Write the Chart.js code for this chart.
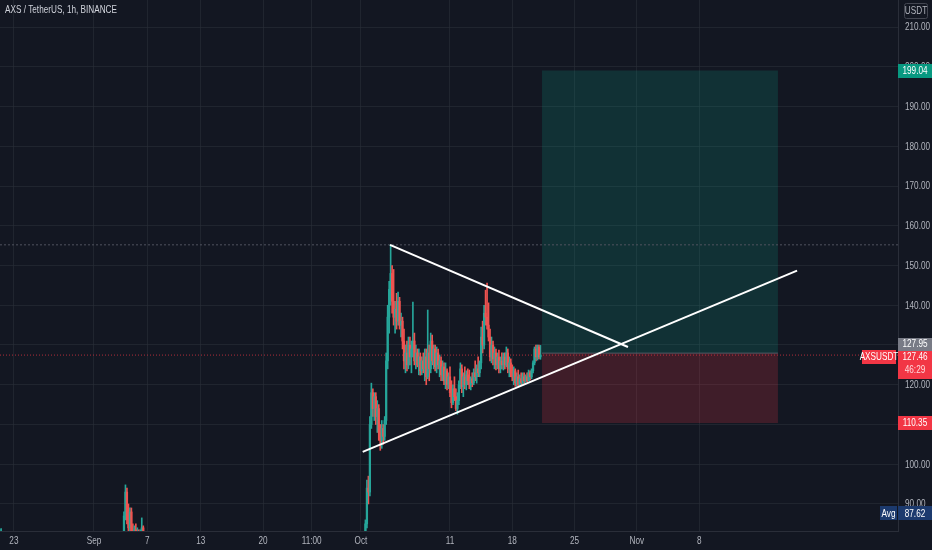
<!DOCTYPE html>
<html>
<head>
<meta charset="utf-8">
<script src="https://cdn.jsdelivr.net/npm/chart.js@4.4.0/dist/chart.umd.min.js"></script>
<style>
  html, body { margin: 0; padding: 0; background: #131722; }
  canvas { display: block; }
</style>
</head>
<body>
<canvas id="chart" width="932" height="550"></canvas>
<script>
// x values are days counted from Sep 1 (Sep 1 = 0, Oct 1 = 30, Nov 1 = 61)
const xTickValues = [-9, 0, 6, 12, 19, 24.46, 30, 40, 47, 54, 61, 68];
const xTickLabels = ['23', 'Sep', '7', '13', '20', '11:00', 'Oct', '11', '18', '25', 'Nov', '8'];
const yTickValues = [90, 100, 110, 120, 130, 140, 150, 160, 170, 180, 190, 200, 210];

const candleStep = 4 / 24; // 4h candles
const augStart = -10.6;
const sepStart = 3.37;
const octStart = 30.5;

// [open, high, low, close]
const augCandles = [
  [80, 83.6, 79, 83], [81, 83.8, 80, 83]
];
const sepCandles = [
  [83, 88, 82, 87], [87, 94.8, 86, 93], [93, 94, 85, 86], [86, 90, 82, 84],
  [84, 89, 82, 88], [88, 89, 82, 83], [83, 85, 81, 82], [82, 84.5, 80, 83.5],
  [83.5, 85, 82, 82.5], [82.5, 84, 81, 83], [83, 83.5, 80, 81], [81, 83.5, 80, 82.5],
  [82.5, 86.5, 82, 84], [84, 84.5, 80, 81]
];
const octCandles = [
  [82, 86, 80, 85], [85, 96, 84, 94], [94, 97, 90, 93], [93, 112, 92, 110],
  [110, 120.4, 109, 118], [118, 119, 112, 114], [114, 118, 111, 117], [117, 118, 110, 112],
  [112, 116, 108, 114], [114, 115, 106, 108], [108, 110, 103.5, 106], [106, 111, 104, 109],
  [109, 110, 105, 107], [107, 112, 106, 111], [111, 128, 110, 126], [126, 140, 124, 137],
  [137, 146, 133, 144], [144, 155.2, 140, 148], [148, 150, 138, 141], [141, 149, 135, 137],
  [137, 141, 133, 139], [139, 143, 134, 136], [136, 143.3, 135, 141], [141, 142, 134, 135],
  [135, 138, 132, 136], [136, 137, 129, 131], [131, 134, 124, 126], [126, 130, 123, 128],
  [128, 131, 123.5, 125], [125, 132, 124, 130], [130, 132, 125, 127], [127, 131, 123, 129],
  [129, 140.8, 127, 131], [131, 133, 125, 126], [126, 130, 124, 128], [128, 129, 124.5, 125],
  [125, 129, 122.5, 127], [127, 128, 122.4, 123.5], [123.5, 127, 122.5, 126], [126, 128, 123, 124],
  [124, 129, 121, 127], [127, 129, 120, 122], [122, 138.8, 121.5, 128], [128, 130, 121, 124],
  [124, 133, 123, 131], [131, 132.5, 125, 126], [126, 130, 124, 129], [129, 130, 123.5, 124.5],
  [124.5, 129.5, 123, 128], [128, 129, 124, 125], [125, 127.5, 122, 126], [126, 127, 121, 122.5],
  [122.5, 126, 121, 124.5], [124.5, 125.5, 120, 121], [121, 125.5, 119, 123.5], [123.5, 124, 118.7, 120],
  [120, 123, 119, 122], [122, 124.5, 117, 118], [118, 121, 114.2, 115.5], [115.5, 120, 115, 119],
  [119, 122, 116, 117], [117, 119, 113.5, 114], [114, 118, 112.6, 116], [116, 121, 115, 120],
  [120, 125.5, 119, 124], [124, 125, 118, 119.5], [119.5, 123, 117, 122], [122, 124.5, 119, 120],
  [120, 123.5, 118.7, 122.5], [122.5, 124, 120, 121], [121, 123.7, 119, 120], [120, 122, 118.7, 121.5],
  [121.5, 123, 119.5, 120.5], [120.5, 124, 120, 123], [123, 126, 121, 122], [122, 125, 120.4, 124],
  [124, 127, 122, 123], [123, 126, 122, 125.5], [125.5, 134.5, 124, 132], [132, 136, 128, 130],
  [130, 140, 129, 138], [138, 143.8, 135, 137], [137, 145.6, 134, 135], [135, 140.6, 131, 132],
  [132, 134, 126, 127], [127, 132, 125.5, 130], [130, 131, 125, 126.5], [126.5, 129.5, 124, 128],
  [128, 129, 123.7, 125], [125, 128, 124, 127], [127, 128.7, 123, 124], [124, 127, 123, 126],
  [126, 128, 124, 125], [125, 128, 123.7, 127], [127, 128, 124, 125], [125, 129.5, 124.5, 128],
  [128, 129, 123, 124], [124, 127, 122, 125.5], [125.5, 126.5, 122, 123], [123, 125, 121, 122],
  [122, 124.5, 120, 123.5], [123.5, 124, 119.6, 120.5], [120.5, 123, 119.6, 122], [122, 123.7, 119.7, 120],
  [120, 122.5, 119.8, 121.5], [121.5, 123, 120, 120.5], [120.5, 123, 120.2, 122], [122, 123, 120.4, 121],
  [121, 122.5, 120.6, 122], [122, 123, 120.8, 121], [121, 123.7, 121, 123], [123, 123.5, 121.2, 122],
  [122, 124, 121.5, 123.5], [123.5, 126, 123, 125.5], [125.5, 129.5, 125, 129], [129, 130, 126, 127],
  [127, 130, 126.2, 129.5], [129.5, 130, 126.5, 127], [127, 129.9, 126.4, 127.46]
];

// drawings
const upperLine = [{ x: 33.26, y: 155.2 }, { x: 60.0, y: 129.5 }];
const lowerLine = [{ x: 30.19, y: 103.1 }, { x: 79.0, y: 148.7 }];
const boxStart = 50.34;
const boxEnd = 76.85;
const entryPrice = 127.95;
const targetPrice = 199.04;
const stopPrice = 110.35;
const lastPrice = 127.46;
const highPrice = 155.2;
const avgPrice = 87.62;

const X_MIN = -10.56;
const X_MAX = 90.34;
const Y_MIN = 83.2;
const Y_MAX = 216.8;

const UP = '#26a69a';
const DOWN = '#ef5350';
const FONT = '"Liberation Sans", Arial, sans-serif';
const SQUEEZE = 0.78;

const wicks = [];
const bodies = [];
const colors = [];

function addCandles(list, start) {
  for (let i = 0; i < list.length; i++) {
    const c = list[i];
    const x = start + i * candleStep;
    wicks.push({ x: x, y: [c[2], c[1]] });
    bodies.push({ x: x, y: [c[0], c[3]] });
    colors.push(c[3] >= c[0] ? UP : DOWN);
  }
}
addCandles(augCandles, augStart);
addCandles(sepCandles, sepStart);
addCandles(octCandles, octStart);

function flatLine(y, x1, x2) {
  return [{ x: x1, y: y }, { x: x2, y: y }];
}

// narrow text, like the TradingView UI font
function text(ctx, str, x, y, align, color) {
  ctx.save();
  ctx.fillStyle = color;
  ctx.textAlign = align;
  ctx.textBaseline = 'middle';
  ctx.translate(x, y);
  ctx.scale(SQUEEZE, 1);
  ctx.fillText(str, 0, 0);
  ctx.restore();
}

function tag(ctx, str, yc, bg, fg, x, w, h) {
  ctx.fillStyle = bg;
  ctx.fillRect(x, Math.round(yc - h / 2), w, h);
  text(ctx, str, x + w / 2, yc + 0.5, 'center', fg);
}

function noPadding(scale) {
  scale.paddingTop = 0;
  scale.paddingBottom = 0;
  scale.paddingLeft = 0;
  scale.paddingRight = 0;
}

const overlay = {
  id: 'overlay',
  afterDraw(chart) {
    const ctx = chart.ctx;
    const x = chart.scales.x;
    const y = chart.scales.y;
    const right = chart.chartArea.right;
    const w = 932 - right;
    ctx.save();
    ctx.font = '10.5px ' + FONT;

    // axis labels
    for (let i = 0; i < yTickValues.length; i++) {
      text(ctx, yTickValues[i].toFixed(2), right + 7, y.getPixelForValue(yTickValues[i]) + 0.5, 'left', '#b2b5be');
    }
    for (let i = 0; i < xTickLabels.length; i++) {
      text(ctx, xTickLabels[i], x.getPixelForValue(xTickValues[i]), 541, 'center', '#b2b5be');
    }

    // title
    text(ctx, 'AXS / TetherUS, 1h, BINANCE', 5, 10, 'left', '#d1d4dc');

    // currency box
    ctx.strokeStyle = '#434651';
    ctx.lineWidth = 1;
    ctx.beginPath();
    ctx.roundRect(904.5, 3.5, 23, 15, 2);
    ctx.stroke();
    text(ctx, 'USDT', 916, 11, 'center', '#b2b5be');

    tag(ctx, targetPrice.toFixed(2), y.getPixelForValue(targetPrice), '#089981', '#ffffff', right, w, 14);
    tag(ctx, stopPrice.toFixed(2), y.getPixelForValue(stopPrice), '#f23645', '#ffffff', right, w, 14);

    const yl = y.getPixelForValue(lastPrice);
    tag(ctx, entryPrice.toFixed(2), yl - 11, '#787b86', '#ffffff', right, w, 13);
    ctx.fillStyle = '#f23645';
    ctx.fillRect(right, Math.round(yl - 4.5), w, 28);
    text(ctx, lastPrice.toFixed(2), right + w / 2, yl + 2.5, 'center', '#ffffff');
    text(ctx, '46:29', right + w / 2, yl + 15, 'center', '#ffd9dc');
    tag(ctx, 'AXSUSDT', yl + 2, '#f23645', '#ffffff', 862, 34, 14);

    const ya = y.getPixelForValue(avgPrice);
    tag(ctx, 'Avg', ya, '#1c3a6e', '#ffffff', 880, 17, 14);
    tag(ctx, avgPrice.toFixed(2), ya, '#1c3a6e', '#ffffff', right, w, 14);
    ctx.restore();
  }
};

const chartConfig = {
  type: 'bar',
  data: {
    datasets: [
      {
        type: 'line', data: flatLine(targetPrice, boxStart, boxEnd),
        borderWidth: 0, pointRadius: 0, fill: { value: entryPrice },
        backgroundColor: 'rgba(8, 153, 129, 0.2)', order: 10
      },
      {
        type: 'line', data: flatLine(stopPrice, boxStart, boxEnd),
        borderWidth: 0, pointRadius: 0, fill: { value: entryPrice },
        backgroundColor: 'rgba(242, 54, 69, 0.2)', order: 10
      },
      {
        type: 'line', data: flatLine(entryPrice, boxStart, boxEnd),
        borderWidth: 1, pointRadius: 0, borderColor: 'rgba(120, 123, 134, 0.6)', order: 9
      },
      {
        type: 'line', data: flatLine(highPrice, X_MIN, X_MAX),
        borderWidth: 1, pointRadius: 0, borderColor: '#50535e', borderDash: [2, 2], order: 8
      },
      {
        type: 'line', data: flatLine(lastPrice, X_MIN, X_MAX),
        borderWidth: 1, pointRadius: 0, borderColor: 'rgba(242, 54, 69, 0.7)', borderDash: [1, 2], order: 8
      },
      {
        data: wicks, backgroundColor: colors, barThickness: 1, grouped: false,
        minBarLength: 1, order: 5
      },
      {
        data: bodies, backgroundColor: colors, barThickness: 1.6, grouped: false,
        minBarLength: 1, order: 4
      },
      {
        type: 'line', data: upperLine, borderColor: '#ffffff', borderWidth: 2,
        pointRadius: 0, order: 1
      },
      {
        type: 'line', data: lowerLine, borderColor: '#ffffff', borderWidth: 2,
        pointRadius: 0, order: 1
      }
    ]
  },
  options: {
    responsive: false,
    animation: false,
    devicePixelRatio: 1,
    layout: { padding: 0 },
    plugins: { legend: { display: false }, tooltip: { enabled: false } },
    scales: {
      x: {
        type: 'linear', min: X_MIN, max: X_MAX, offset: false,
        grid: { color: 'rgba(42, 46, 57, 0.6)', offset: false, drawTicks: false },
        border: { color: '#2a2e39' },
        afterBuildTicks: (scale) => { scale.ticks = xTickValues.map(v => ({ value: v })); },
        afterFit: (scale) => { scale.height = 19; noPadding(scale); },
        ticks: { display: false }
      },
      y: {
        type: 'linear', position: 'right', min: Y_MIN, max: Y_MAX,
        grid: { color: 'rgba(42, 46, 57, 0.6)', drawTicks: false },
        border: { color: '#2a2e39' },
        afterBuildTicks: (scale) => { scale.ticks = yTickValues.map(v => ({ value: v })); },
        afterFit: (scale) => { scale.width = 34; noPadding(scale); },
        ticks: { display: false }
      }
    }
  },
  plugins: [overlay]
};

const ctx = document.getElementById('chart').getContext('2d');
new Chart(ctx, chartConfig);
</script>
</body>
</html>
